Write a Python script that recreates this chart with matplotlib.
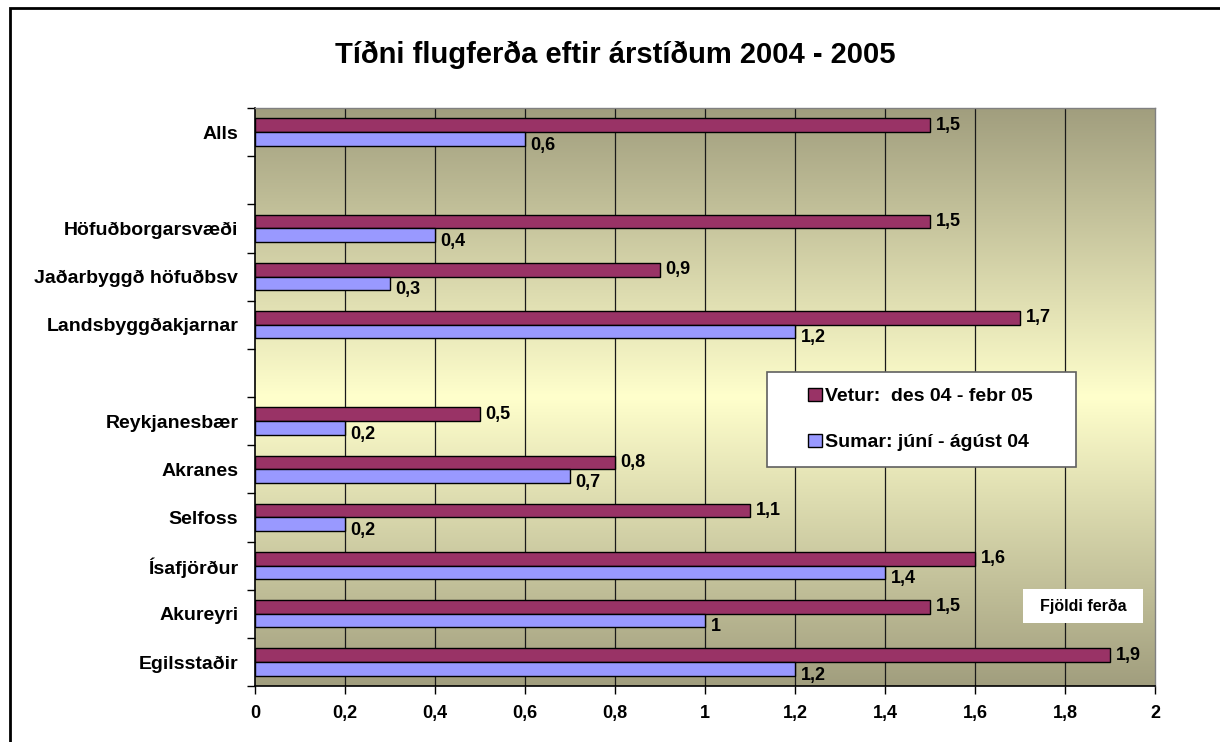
import numpy as np
import matplotlib
matplotlib.use('Agg')
import matplotlib.pyplot as plt
from matplotlib.patches import Rectangle, Patch
from matplotlib.colors import LinearSegmentedColormap

plt.rcParams['font.family'] = ['Liberation Sans', 'DejaVu Sans']
plt.rcParams['font.weight'] = 'bold'

# Gögn
categories = ['Alls', '', 'Höfuðborgarsvæði', 'Jaðarbyggð höfuðbsv', 'Landsbyggðakjarnar', '',
              'Reykjanesbær', 'Akranes', 'Selfoss', 'Ísafjörður', 'Akureyri', 'Egilsstaðir']
vetur = [1.5, None, 1.5, 0.9, 1.7, None, 0.5, 0.8, 1.1, 1.6, 1.5, 1.9]
sumar = [0.6, None, 0.4, 0.3, 1.2, None, 0.2, 0.7, 0.2, 1.4, 1.0, 1.2]
x_ticks = [0, 0.2, 0.4, 0.6, 0.8, 1.0, 1.2, 1.4, 1.6, 1.8, 2.0]

vetur_color = '#993366'
sumar_color = '#9999FF'


def fmt(v):
    return f'{v:g}'.replace('.', ',')


fig = plt.figure(figsize=(12.2, 7.42), dpi=100)
ax = fig.add_axes([255 / 1220, 1 - 686 / 742, 900 / 1220, 578 / 742])

n = len(categories)
ax.set_xlim(0, 2)
ax.set_ylim(n - 0.5, -0.5)

# bakgrunnur: ljósgulur í miðju, ólífugrænn efst og neðst
cmap = LinearSegmentedColormap.from_list('bg', ['#A19E7E', '#FFFFCC', '#A19E7E'])
grad = np.linspace(0, 1, 256).reshape(-1, 1)
ax.imshow(grad, cmap=cmap, extent=[0, 2, n - 0.5, -0.5], aspect='auto', zorder=0)

for xv in x_ticks[1:-1]:
    ax.axvline(xv, color='#1a1a1a', lw=0.9, zorder=1)

bh = 0.285
y = np.arange(n)
for i in range(n):
    if vetur[i] is not None:
        ax.barh(y[i] - bh / 2, vetur[i], height=bh, color=vetur_color, edgecolor='black', lw=1, zorder=2)
        ax.text(vetur[i] + 0.012, y[i] - bh / 2, fmt(vetur[i]), va='center', ha='left',
                fontsize=13, fontweight='bold', zorder=3)
    if sumar[i] is not None:
        ax.barh(y[i] + bh / 2, sumar[i], height=bh, color=sumar_color, edgecolor='black', lw=1, zorder=2)
        ax.text(sumar[i] + 0.012, y[i] + bh / 2 + 0.13, fmt(sumar[i]), va='center', ha='left',
                fontsize=13, fontweight='bold', zorder=3)

ax.set_yticks(y)
ax.set_yticklabels(categories, fontsize=14, fontweight='bold')
ax.tick_params(axis='y', which='major', length=0, pad=12)
ax.set_yticks(np.arange(n + 1) - 0.5, minor=True)
ax.tick_params(axis='y', which='minor', length=6, direction='out', width=1)

ax.set_xticks(x_ticks)
ax.set_xticklabels([fmt(v) for v in x_ticks], fontsize=13, fontweight='bold')
ax.tick_params(axis='x', length=6, direction='out', width=1, pad=8)

for side in ['left', 'bottom']:
    ax.spines[side].set_color('black')
    ax.spines[side].set_linewidth(1.2)
for side in ['top', 'right']:
    ax.spines[side].set_color('#808080')
    ax.spines[side].set_linewidth(1)

# skýringar
lx0, lx1 = (767 - 255) / 900, (1076 - 255) / 900
ly0, ly1 = (686 - 467) / 578, (686 - 372) / 578
ax.add_patch(Rectangle((lx0, ly0), lx1 - lx0, ly1 - ly0, transform=ax.transAxes,
                       facecolor='white', edgecolor='#606060', lw=1.2, zorder=4))
handles = [Patch(facecolor=vetur_color, edgecolor='black', label='Vetur:  des 04 - febr 05'),
           Patch(facecolor=sumar_color, edgecolor='black', label='Sumar: júní - ágúst 04')]
leg = ax.legend(handles=handles, loc='center left', bbox_to_anchor=((808 - 255) / 900, (ly0 + ly1) / 2),
                frameon=False, prop={'size': 14, 'weight': 'bold'}, handlelength=0.7,
                handleheight=0.7, handletextpad=0.15, labelspacing=1.45, borderpad=0,
                borderaxespad=0)
leg.set_zorder(5)

fx0, fx1 = (1023 - 255) / 900, (1143 - 255) / 900
fy0, fy1 = (686 - 623) / 578, (686 - 589) / 578
ax.add_patch(Rectangle((fx0, fy0), fx1 - fx0, fy1 - fy0, transform=ax.transAxes,
                       facecolor='white', edgecolor='none', zorder=4))
ax.text((fx0 + fx1) / 2, (fy0 + fy1) / 2, 'Fjöldi ferða', transform=ax.transAxes,
        ha='center', va='center', fontsize=11.5, fontweight='bold', zorder=5)

fig.text(615 / 1220, 1 - 55 / 742, 'Tíðni flugferða eftir árstíðum 2004 - 2005', ha='center', va='center',
         fontsize=21, fontweight='bold')

fig.patches.append(Rectangle((10 / 1220, -0.1), 1.2, 1 - 8 / 742 + 0.1, transform=fig.transFigure,
                             facecolor='none', edgecolor='black', lw=2))

fig.savefig('out.png', dpi=100)
